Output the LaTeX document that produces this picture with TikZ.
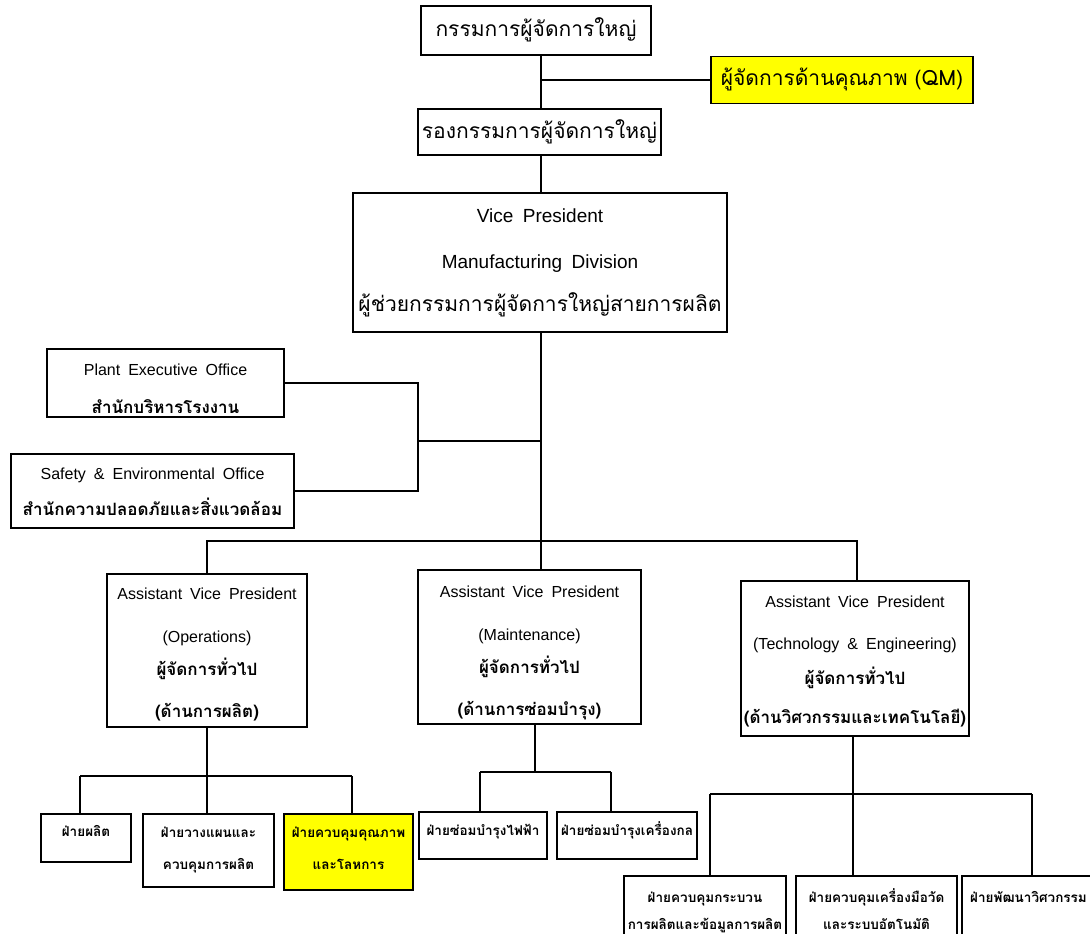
\documentclass[tikz,border=0pt]{standalone}
\usepackage{fontspec}
\setmainfont{Liberation Sans}
\newfontfamily\engfont{Liberation Sans}[WordSpace=1.8]
\newfontfamily\thaifont[Script=Thai]{Loma}
\definecolor{qmyellow}{RGB}{255,255,0}
\begin{document}
\begin{tikzpicture}[x=1pt,y=-1pt,
  box/.style={draw, line width=1.3pt, fill=white, inner sep=0pt},
  hl/.style={box, fill=qmyellow},
  link/.style={line width=1.3pt},
  lbl/.style={inner sep=0pt, anchor=center, yshift=-2.5pt},
  enlbl/.style={lbl, text height=0.72em, text depth=0pt},
  thlbl/.style={lbl, text height=0.56em, text depth=0pt},
  thbig/.style={thlbl, font=\thaifont\fontsize{21}{21}\selectfont},
  envp/.style={enlbl, font=\engfont\fontsize{19}{19}\selectfont},
  en/.style={enlbl, font=\engfont\fontsize{16}{16}\selectfont},
  thmid/.style={thlbl, font=\thaifont\bfseries\fontsize{17}{17}\selectfont},
  thsmall/.style={thlbl, font=\thaifont\bfseries\fontsize{13.5}{13.5}\selectfont},
]
\useasboundingbox (0,0) rectangle (1090,934);

% ---------- boxes ----------
\node[box, minimum width=230, minimum height=49] (gm)  at (536,30.5) {};
\node[hl,  minimum width=262, minimum height=47] (qm)  at (842,80) {};
\node[box, minimum width=243, minimum height=46] (dgm) at (539.5,132) {};
\node[box, minimum width=374, minimum height=139] (vp) at (540,262.5) {};
\node[box, minimum width=237, minimum height=68] (peo) at (165.5,383) {};
\node[box, minimum width=283, minimum height=74] (seo) at (152.5,491) {};

\node[box, minimum width=200, minimum height=153] (avp1) at (207,650.5) {};
\node[box, minimum width=223, minimum height=154] (avp2) at (529.5,647) {};
\node[box, minimum width=228, minimum height=155] (avp3) at (855,658.5) {};

\node[box, minimum width=90,  minimum height=48] (d11) at (86,838) {};
\node[box, minimum width=131, minimum height=73] (d12) at (208.5,850.5) {};
\node[hl,  minimum width=129, minimum height=76] (d13) at (348.5,852) {};
\node[box, minimum width=128, minimum height=47] (d21) at (483,835.5) {};
\node[box, minimum width=140, minimum height=47] (d22) at (627,835.5) {};
\node[box, minimum width=162, minimum height=80] (d31) at (705,916) {};
\node[box, minimum width=161, minimum height=80] (d32) at (876.5,916) {};
\node[box, minimum width=133, minimum height=80] (d33) at (1028.5,916) {};

% ---------- texts ----------
\node[thbig] (gmT)  at (536,31)  {กรรมการผู้จัดการใหญ่};
\node[thbig] (qmT)  at (842,80)  {ผู้จัดการด้านคุณภาพ (QM)};
\node[thbig] (dgmT) at (539.5,133) {รองกรรมการผู้จัดการใหญ่};

\node[envp]  (vpA) at (540,216) {Vice President};
\node[envp]  (vpB) at (540,262) {Manufacturing Division};
\node[thbig] (vpC) at (540,306) {ผู้ช่วยกรรมการผู้จัดการใหญ่สายการผลิต};

\node[en]    (peoA) at (165.5,369) {Plant Executive Office};
\node[thmid] (peoB) at (165.5,408) {สำนักบริหารโรงงาน};
\node[en]    (seoA) at (152.5,473) {Safety \& Environmental Office};
\node[thmid] (seoB) at (152.5,510) {สำนักความปลอดภัยและสิ่งแวดล้อม};

\node[en]    (avp1A) at (207,593) {Assistant Vice President};
\node[en]    (avp1B) at (207,636) {(Operations)};
\node[thmid] (avp1C) at (207,670) {ผู้จัดการทั่วไป};
\node[thmid] (avp1D) at (207,712) {(ด้านการผลิต)};

\node[en]    (avp2A) at (529.5,591) {Assistant Vice President};
\node[en]    (avp2B) at (529.5,634) {(Maintenance)};
\node[thmid] (avp2C) at (529.5,668) {ผู้จัดการทั่วไป};
\node[thmid] (avp2D) at (529.5,710) {(ด้านการซ่อมบำรุง)};

\node[en]    (avp3A) at (855,601) {Assistant Vice President};
\node[en]    (avp3B) at (855,643) {(Technology \& Engineering)};
\node[thmid] (avp3C) at (855,679) {ผู้จัดการทั่วไป};
\node[thmid] (avp3D) at (855,718) {(ด้านวิศวกรรมและเทคโนโลยี)};

\node[thsmall] (d11T)  at (86,831)    {ฝ่ายผลิต};
\node[thsmall] (d12Ta) at (208.5,832) {ฝ่ายวางแผนและ};
\node[thsmall] (d12Tb) at (208.5,864) {ควบคุมการผลิต};
\node[thsmall] (d13Ta) at (348.5,832) {ฝ่ายควบคุมคุณภาพ};
\node[thsmall] (d13Tb) at (348.5,864) {และโลหการ};
\node[thsmall] (d21T)  at (483,830)   {ฝ่ายซ่อมบำรุงไฟฟ้า};
\node[thsmall] (d22T)  at (627,830)   {ฝ่ายซ่อมบำรุงเครื่องกล};
\node[thsmall] (d31Ta) at (705,897)   {ฝ่ายควบคุมกระบวน};
\node[thsmall] (d31Tb) at (705,924)   {การผลิตและข้อมูลการผลิต};
\node[thsmall] (d32Ta) at (876.5,897) {ฝ่ายควบคุมเครื่องมือวัด};
\node[thsmall] (d32Tb) at (876.5,924) {และระบบอัตโนมัติ};
\node[thsmall] (d33T)  at (1028.5,897) {ฝ่ายพัฒนาวิศวกรรม};

% ---------- junction points ----------
\coordinate (spine) at (541,0);
\coordinate (offj)  at (418,441);
\coordinate (bus)   at (541,541);
\coordinate (b1)    at (207,776);
\coordinate (b1l)   at (80,776);
\coordinate (b1r)   at (352,776);
\coordinate (b2)    at (535,772);
\coordinate (b2l)   at (480,772);
\coordinate (b2r)   at (611,772);
\coordinate (b3)    at (853,794);
\coordinate (b3l)   at (710,794);
\coordinate (b3r)   at (1032,794);

% ---------- connectors ----------
\draw[link] (gm.south -| spine) -- (dgm.north -| spine);
\draw[link] (spine |- qm.west) -- (qm.west);
\draw[link] (dgm.south -| spine) -- (vp.north -| spine);
\draw[link] (vp.south -| spine) -- (bus);

\draw[link] (peo.east) -| (offj);
\draw[link] (seo.east) -| (offj);
\draw[link] (offj) -- (spine |- offj);

\draw[link] (avp1.north) |- (bus) -| (avp3.north -| 857,0);
\draw[link] (avp3.north -| 857,0) -- (avp3.north);
\draw[link] (spine |- avp2.north) -- (bus);

\draw[link] (avp1.south) -- (b1);
\draw[link] (b1l) -- (b1r);
\draw[link] (b1l) -- (b1l |- d11.north);
\draw[link] (b1) -- (d12.north -| b1);
\draw[link] (b1r) -- (b1r |- d13.north);

\draw[link] (b2 |- avp2.south) -- (b2);
\draw[link] (b2l) -- (b2r);
\draw[link] (b2l) -- (b2l |- d21.north);
\draw[link] (b2r) -- (b2r |- d22.north);

\draw[link] (b3 |- avp3.south) -- (b3);
\draw[link] (b3l) -- (b3r);
\draw[link] (b3l) -- (b3l |- d31.north);
\draw[link] (b3) -- (b3 |- d32.north);
\draw[link] (b3r) -- (b3r |- d33.north);
\end{tikzpicture}
\end{document}
